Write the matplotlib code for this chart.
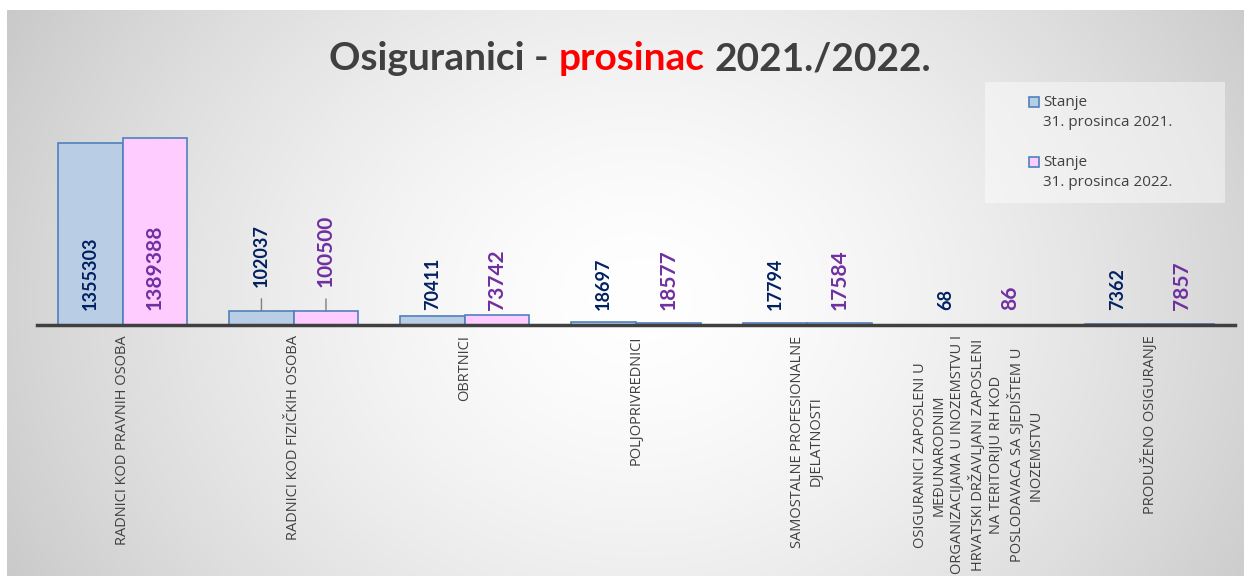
import numpy as np
import matplotlib.pyplot as plt
from matplotlib.patches import Rectangle

categories = [
    "RADNICI KOD PRAVNIH OSOBA",
    "RADNICI KOD FIZIČKIH OSOBA",
    "OBRTNICI",
    "POLJOPRIVREDNICI",
    "SAMOSTALNE PROFESIONALNE\nDJELATNOSTI",
    "OSIGURANICI ZAPOSLENI U\nMEĐUNARODNIM\nORGANIZACIJAMA U INOZEMSTVU I\n"
    "HRVATSKI DRŽAVLJANI ZAPOSLENI\nNA TERITORIJU RH KOD\n"
    "POSLODAVACA SA SJEDIŠTEM U\nINOZEMSTVU",
    "PRODUŽENO OSIGURANJE",
]
stanje_2021 = [1355303, 102037, 70411, 18697, 17794, 68, 7362]
stanje_2022 = [1389388, 100500, 73742, 18577, 17584, 86, 7857]
series_labels = ["Stanje\n31. prosinca 2021.", "Stanje\n31. prosinca 2022."]
title_parts = [("Osiguranici -", "#404040"), ("prosinac", "#ff0000"), ("2021./2022.", "#404040")]

W, H = 1244, 576
GRAY = "#404040"
FILLS = ["#b9cde5", "#ffccff"]
EDGE = "#4f81bd"
LABEL_COLORS = ["#002060", "#7030a0"]
LABEL_SIZES = [13, 15]
LEADER_GROUPS = {1}


def main():
    fig = plt.figure(figsize=(W / 100, H / 100), dpi=100)
    fig.patch.set_facecolor("white")

    # radial grey background panel
    bg = fig.add_axes([0, 0, 1, 1], zorder=0)
    yy, xx = np.mgrid[0:H, 0:W]
    t = np.sqrt(((xx - 640) / 720) ** 2 + ((yy - 300) / 600) ** 2)
    shade = 1 - 0.21 * np.clip(t, 0, 1) ** 1.5
    img = np.dstack([shade] * 3)
    img[:10, :] = 1
    img[:, :7] = 1
    bg.imshow(img, extent=(0, W, H, 0), aspect="auto", interpolation="bilinear")
    bg.set_xlim(0, W)
    bg.set_ylim(H, 0)
    bg.axis("off")

    ax = fig.add_axes([37 / W, (H - 325) / H, 1198 / W, 235 / H], zorder=1)
    ax.patch.set_alpha(0)
    x = np.arange(len(categories))
    w = 0.377
    series = [stanje_2021, stanje_2022]
    for k, vals in enumerate(series):
        ax.bar(x + (k - 0.5) * w, vals, w, color=FILLS[k], edgecolor=EDGE, linewidth=1.2)

    ax.set_xlim(-0.5, len(categories) - 0.5)
    ax.set_ylim(0, max(stanje_2022) * 1.257)
    for s in ("top", "left", "right"):
        ax.spines[s].set_visible(False)
    ax.spines["bottom"].set_color(GRAY)
    ax.spines["bottom"].set_linewidth(2.5)
    ax.spines["bottom"].set_zorder(5)
    ax.set_yticks([])
    ax.set_xticks(x, categories, rotation=90, fontsize=10.5, color=GRAY,
                  family="Open Sans", multialignment="center", linespacing=1.3)
    ax.tick_params(axis="x", length=0, pad=7.5)

    # data labels
    for k, vals in enumerate(series):
        for i, v in enumerate(vals):
            xi = i + (k - 0.5) * w
            kw = dict(textcoords="offset points", ha="center", va="bottom", rotation=90,
                      color=LABEL_COLORS[k], fontsize=LABEL_SIZES[k], fontweight="bold",
                      family="Lato", annotation_clip=False)
            if i in LEADER_GROUPS:
                ax.annotate(str(v), xy=(xi, v), xytext=(0, 17.5),
                            arrowprops=dict(arrowstyle="-", color="#7f7f7f", lw=1,
                                            shrinkA=6.5, shrinkB=0), **kw)
            else:
                ax.annotate(str(v), xy=(xi, 0), xytext=(0, 10.5), **kw)

    # legend box
    fig.patches.append(Rectangle((985 / W, 1 - 203 / H), 240 / W, 121 / H,
                                 transform=fig.transFigure, facecolor="white",
                                 alpha=0.45, edgecolor="none"))
    for k, lab in enumerate(series_labels):
        top = 97 + k * 60
        fig.patches.append(Rectangle((1029 / W, 1 - (top + 10) / H), 10 / W, 10 / H,
                                     transform=fig.transFigure, facecolor=FILLS[k],
                                     edgecolor=EDGE, linewidth=1.2))
        first, second = lab.split("\n")
        fig.text(1043 / W, 1 - (top + 5) / H, first, va="center", fontsize=11,
                 color=GRAY, family="Open Sans")
        fig.text(1043 / W, 1 - (top + 26) / H, second, va="center", fontsize=11,
                 color=GRAY, family="Open Sans")

    # multi-colour title
    renderer = fig.canvas.get_renderer()
    tkw = dict(fontsize=28, fontweight="bold", family="Lato", va="baseline")
    texts = [fig.text(0, 1 - 70 / H, s, color=c, **tkw) for s, c in title_parts]
    widths = [tx.get_window_extent(renderer).width for tx in texts]
    probe1 = fig.text(0, 0, "x x", **tkw)
    probe2 = fig.text(0, 0, "xx", **tkw)
    space = probe1.get_window_extent(renderer).width - probe2.get_window_extent(renderer).width
    probe1.remove()
    probe2.remove()
    total = sum(widths) + space * (len(texts) - 1)
    pos = 630 - total / 2
    for tx, wd in zip(texts, widths):
        tx.set_x(pos / W)
        pos += wd + space

    fig.savefig("out.png", dpi=100)


if __name__ == "__main__":
    main()
